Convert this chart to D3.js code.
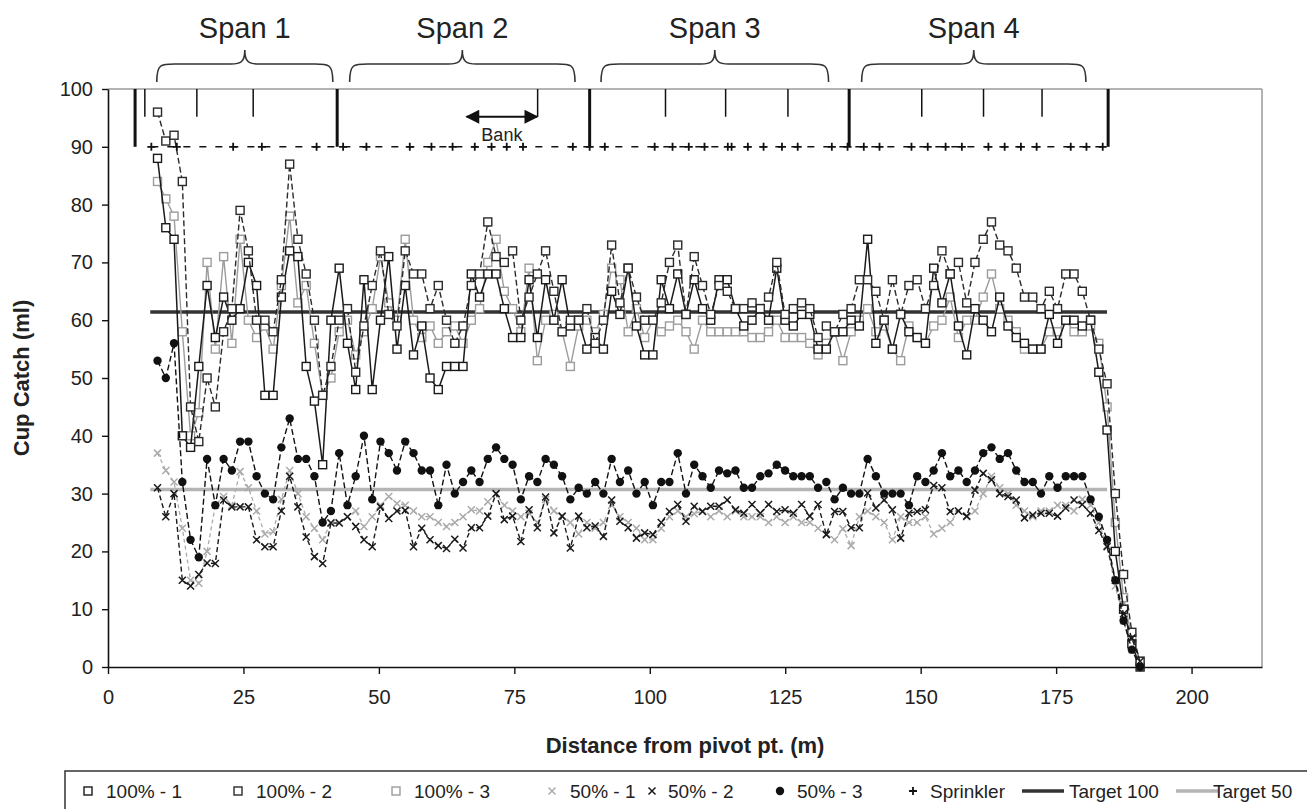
<!DOCTYPE html>
<html><head><meta charset="utf-8">
<script src="https://cdn.jsdelivr.net/npm/d3@7"></script>
<style>
body{margin:0;background:#fff}
svg{display:block}
text{font-family:"Liberation Sans",Arial,sans-serif;fill:#222}
</style>
</head><body>
<svg id="c" width="1307" height="809"></svg>
<script>
// ---------------- DATA ----------------
const distance = [9.14,10.67,12.19,13.72,15.24,16.76,18.29,19.81,21.34,22.86,
24.38,25.91,27.43,28.96,30.48,32.0,33.53,35.05,36.58,38.1,
39.62,41.15,42.67,44.2,45.72,47.24,48.77,50.29,51.82,53.34,
54.86,56.39,57.91,59.44,60.96,62.48,64.01,65.53,67.06,68.58,
70.1,71.63,73.15,74.68,76.2,77.72,79.25,80.77,82.3,83.82,
85.34,86.87,88.39,89.92,91.44,92.96,94.49,96.01,97.54,99.06,
100.58,102.11,103.63,105.16,106.68,108.2,109.73,111.25,112.78,114.3,
115.82,117.35,118.87,120.4,121.92,123.44,124.97,126.49,128.02,129.54,
131.06,132.59,134.11,135.64,137.16,138.68,140.21,141.73,143.26,144.78,
146.3,147.83,149.35,150.88,152.4,153.92,155.45,156.97,158.5,160.02,
161.54,163.07,164.59,166.12,167.64,169.16,170.69,172.21,173.74,175.26,
176.78,178.31,179.83,181.36,182.88,184.4,185.93,187.45,188.98,190.5];

const s100_1 = [88,76,74,40,38,52,66,57,64,60,
62,70,66,47,47,64,72,71,52,46,
35,60,69,56,48,67,48,60,71,55,
66,54,59,50,48,52,52,52,68,64,
68,68,62,57,57,67,57,67,60,67,
59,60,55,57,55,65,61,69,59,54,
54,67,62,68,61,67,62,60,67,67,
62,59,60,62,60,69,60,59,61,61,
55,55,58,58,60,59,74,56,60,55,
61,58,57,56,69,63,68,59,54,62,
60,58,64,59,57,56,55,55,61,56,
60,60,59,60,51,41,20,10,4,0];

const s100_2 = [96,91,92,84,45,39,50,45,58,62,
79,72,60,60,58,67,87,74,68,60,
47,52,60,62,51,59,66,72,61,59,
72,68,68,62,66,60,56,59,66,68,
77,71,70,72,60,64,68,72,65,58,
60,60,62,56,60,73,63,69,64,60,
60,63,70,73,61,71,66,61,66,65,
62,62,63,62,64,70,61,62,63,62,
57,59,58,61,62,67,67,65,60,67,
61,66,67,62,66,72,68,70,63,70,
74,77,73,72,69,64,64,62,65,62,
68,68,65,60,55,49,30,16,6,1];

const s100_3 = [84,81,78,58,40,44,70,55,71,56,
74,60,57,59,55,66,78,63,66,56,
47,50,58,60,54,58,62,71,63,60,
74,60,57,59,56,58,59,56,60,62,
70,74,65,62,58,69,53,60,61,58,
52,59,60,58,61,69,67,58,62,57,
60,58,59,60,58,55,60,58,58,58,
58,58,57,57,58,60,57,57,57,56,
54,56,58,53,58,60,62,58,59,55,
53,59,57,56,59,60,64,57,60,60,
64,68,62,60,58,55,55,55,58,58,
60,58,58,59,56,45,25,12,5,1];

const s50_1 = [37,34,32,24,15,14.5,20,28,29.5,28,
33.8,31,27,23,23.4,29,34,30,26,24,
22,25,25,26,27,24.3,26,28,29.5,28.3,
28,27,26,26,25,24.3,25,26,27.2,27,
28.6,30,28,27,26,26.6,25,29,27,26,
25,23,25,24,25,28,26,25,24,22,
22,24,26,27,26,26.5,27,26,27,26,
27,26,26,26,25,26,25,26,25,25,
24,23,22,23.9,21,26,27,26,25,22,
26,25,25,26,23,24,25,27,26,27,
30,33,31,30,28,27,26,27,27,28,
28,27,29,28,25,21,14,8,3,0];

const s50_2 = [31,26,30,15,14,16,18,17.9,28.9,27.7,
27.7,27.7,22,20.8,20.8,27,33,27.7,22.5,19.1,
17.9,24.9,24.9,26,24.3,22,20.8,27.7,25.7,27,
27.1,20.8,24,22,21,20.5,22.1,20.6,24.1,24.1,
26.1,30,25.5,26.1,21.7,27.2,24.1,29.4,23.2,26.1,
20.6,26.1,24.1,24.4,22.6,28.9,25.2,24.1,22.3,23.2,
22.9,25,26.9,28.1,25.2,27.8,26.9,27.8,27.8,28.9,
27.2,26.6,28.1,26.6,28.1,26.9,27.2,26.6,28.1,26.1,
28.1,22.9,26.9,26.9,24.1,24.1,30.1,27.5,28.9,27.2,
22.3,26.6,26.9,27.2,31.4,31,26.9,27,26.1,30.6,
33.5,32.4,30,29.5,28.9,25.8,26.3,26.6,26.6,26.1,
27.5,28.9,28.1,26.6,23.6,20.8,15,9.2,5,1];

const s50_3 = [53,50,56,32,22,19,36,28,36,34,
39,39,33,30,29,38,43,36,36,33,
25,27,37,28,33,40,29,39,37,34,
39,37,34,34,28,35,30,32,34,32,
36,38,36,35,29,33,32,36,35,33,
29,31,30,32,30,36,32,34,30,32,
28,32,32,37,30,35,33,31,34,33.5,
34,31,31,33,33.5,35,34,33,33,33,
31,32,29,31,30,30,36,33,30,30,
30,28,33,32,34,37,33,34,32,34,
37,38,36,37,34,32,32,30,33,31,
33,33,33,29,26,22,15,8,3,0];

const sprinklerPos = [8.0,12.7,23.1,28.4,38.5,43.4,47.7,55.7,59.7,63.6,67.7,70.8,73.6,76.6,85.8,88.9,
91.7,100.9,104.2,107.2,110.1,114.4,115.1,118.1,121.0,124.4,127.3,133.6,136.5,139.5,142.4,
148.3,151.3,154.6,157.6,162.5,165.5,168.5,171.4,177.7,180.6,183.6];
const sprinklerValue = 90;
const towers = [5.0, 42.3, 88.9, 136.8, 184.6];
const drops = [6.8, 16.4, 26.8, 79.3, 102.9, 114.0, 125.5, 150.2, 161.6, 172.4];
const spanLabels = ["Span 1","Span 2","Span 3","Span 4"];
const spanStart = [9.0, 44.6, 91.0, 139.1];
const spanEnd = [41.5, 86.2, 133.0, 180.5];
const bankFrom = 66.2, bankTo = 79.2, bankLabel = "Bank";
const target100 = 61.4, target50 = 30.7;
const targetFrom = 7.8, targetTo = 184.4;
const xTicks = [0,25,50,75,100,125,150,175,200];
const yTicks = [0,10,20,30,40,50,60,70,80,90,100];
const seriesNames = ["100% - 1","100% - 2","100% - 3","50% - 1","50% - 2","50% - 3","Sprinkler","Target 100","Target 50"];

// ---------------- CHART ----------------
const svg = d3.select("#c");
const x = d3.scaleLinear().domain([0, 213]).range([108, 1262]);
const y = d3.scaleLinear().domain([0, 100]).range([667, 89]);

svg.append("line").attr("x1", x(0)).attr("x2", x(213)).attr("y1", y(100)).attr("y2", y(100))
  .attr("stroke", "#9a9a9a").attr("stroke-width", 1.5);
svg.append("line").attr("x1", x(213)).attr("x2", x(213)).attr("y1", y(100)).attr("y2", y(0))
  .attr("stroke", "#9a9a9a").attr("stroke-width", 1.5);

const gy = svg.append("g").attr("transform", `translate(${x(0)},0)`)
  .call(d3.axisLeft(y).tickValues(yTicks).tickSize(6).tickSizeOuter(0).tickPadding(9));
const gx = svg.append("g").attr("transform", `translate(0,${y(0)})`)
  .call(d3.axisBottom(x).tickValues(xTicks).tickSize(7).tickSizeOuter(0).tickPadding(16));
[gx, gy].forEach(g => {
  g.select(".domain").attr("stroke", "#111").attr("stroke-width", 1.6);
  g.selectAll(".tick line").attr("stroke", "#111").attr("stroke-width", 1.4);
  g.selectAll(".tick text").attr("font-size", 20).attr("fill", "#444")
    .style("font-family", '"Liberation Sans",Arial,sans-serif');
});

svg.append("text").attr("x", (x(0) + x(213)) / 2).attr("y", 753).attr("text-anchor", "middle")
  .attr("font-size", 22).attr("font-weight", "bold").text("Distance from pivot pt. (m)");
svg.append("text").attr("transform", `translate(29,${(y(0) + y(100)) / 2}) rotate(-90)`)
  .attr("text-anchor", "middle").attr("font-size", 22).attr("font-weight", "bold").text("Cup Catch (ml)");

const ann = svg.append("g");
ann.selectAll(".tower").data(towers).join("line")
  .attr("x1", d => x(d)).attr("x2", d => x(d)).attr("y1", y(100)).attr("y2", y(sprinklerValue))
  .attr("stroke", "#111").attr("stroke-width", 3);
ann.selectAll(".drop").data(drops).join("line")
  .attr("x1", d => x(d)).attr("x2", d => x(d)).attr("y1", y(100)).attr("y2", y(95.2))
  .attr("stroke", "#111").attr("stroke-width", 1.5);

function bracePath(a, b) {
  const x1 = x(a), x2 = x(b), m = (x1 + x2) / 2, yb = 82, yf = 64, yt = 50;
  return `M${x1},${yb} C${x1},${yf} ${x1+4},${yf} ${x1+18},${yf} L${m-14},${yf} C${m-4},${yf} ${m},${yf-2} ${m},${yt} ` +
         `C${m},${yf-2} ${m+4},${yf} ${m+14},${yf} L${x2-18},${yf} C${x2-4},${yf} ${x2},${yf} ${x2},${yb}`;
}
spanLabels.forEach((lab, i) => {
  ann.append("path").attr("d", bracePath(spanStart[i], spanEnd[i]))
    .attr("fill", "none").attr("stroke", "#333").attr("stroke-width", 1.6);
  ann.append("text").attr("x", x((spanStart[i] + spanEnd[i]) / 2)).attr("y", 38)
    .attr("text-anchor", "middle").attr("font-size", 29).text(lab);
});

svg.append("defs").append("marker").attr("id", "ah").attr("viewBox", "0 0 10 10")
  .attr("refX", 9).attr("refY", 5).attr("markerWidth", 9).attr("markerHeight", 7)
  .attr("orient", "auto-start-reverse").append("path").attr("d", "M0,0 L10,5 L0,10 z").attr("fill", "#111");
ann.append("line").attr("x1", x(bankFrom)).attr("x2", x(bankTo)).attr("y1", y(95.2)).attr("y2", y(95.2))
  .attr("stroke", "#111").attr("stroke-width", 2).attr("marker-start", "url(#ah)").attr("marker-end", "url(#ah)");
ann.append("text").attr("x", x((bankFrom + bankTo) / 2)).attr("y", y(91.0)).attr("text-anchor", "middle")
  .attr("font-size", 18).text(bankLabel);

function drawMarker(g, type, cx, cy, color) {
  if (type === "square") {
    g.append("rect").attr("x", cx - 4).attr("y", cy - 4).attr("width", 8).attr("height", 8)
      .attr("fill", "#fff").attr("stroke", color).attr("stroke-width", 1.4);
  } else if (type === "x") {
    g.append("path").attr("d", `M${cx-3.5},${cy-3.5}L${cx+3.5},${cy+3.5}M${cx-3.5},${cy+3.5}L${cx+3.5},${cy-3.5}`)
      .attr("stroke", color).attr("stroke-width", 1.5);
  } else if (type === "dot") {
    g.append("circle").attr("cx", cx).attr("cy", cy).attr("r", 4.2).attr("fill", color);
  } else if (type === "plus") {
    g.append("path").attr("d", `M${cx-4},${cy}L${cx+4},${cy}M${cx},${cy-4}L${cx},${cy+4}`)
      .attr("stroke", color).attr("stroke-width", 1.8);
  }
}

const series = [
  {values: s100_3, color: "#9c9c9c", dash: null, w: 1.4, marker: "square"},
  {values: s50_1, color: "#ababab", dash: "4,3", w: 1.3, marker: "x"},
  {values: s100_1, color: "#1a1a1a", dash: null, w: 1.5, marker: "square"},
  {values: s100_2, color: "#2a2a2a", dash: "6,3", w: 1.4, marker: "square"},
  {values: s50_2, color: "#1a1a1a", dash: "5,3", w: 1.4, marker: "x"},
  {values: s50_3, color: "#111", dash: "6,3", w: 1.4, marker: "dot"}
];

svg.append("line").attr("x1", x(targetFrom)).attr("x2", x(targetTo)).attr("y1", y(target50)).attr("y2", y(target50))
  .attr("stroke", "#b5b5b5").attr("stroke-width", 3.5);
svg.append("line").attr("x1", x(targetFrom)).attr("x2", x(targetTo)).attr("y1", y(target100)).attr("y2", y(target100))
  .attr("stroke", "#333").attr("stroke-width", 3.5);

const line = d3.line().x(d => x(d[0])).y(d => y(d[1]));
series.forEach(s => {
  const pts = distance.map((d, i) => [d, s.values[i]]);
  const g = svg.append("g");
  g.append("path").attr("d", line(pts)).attr("fill", "none").attr("stroke", s.color)
    .attr("stroke-width", s.w).attr("stroke-dasharray", s.dash);
  pts.forEach(p => drawMarker(g, s.marker, x(p[0]), y(p[1]), s.color));
});

const sg = svg.append("g");
sg.append("line").attr("x1", x(sprinklerPos[0])).attr("x2", x(sprinklerPos[sprinklerPos.length - 1]))
  .attr("y1", y(sprinklerValue)).attr("y2", y(sprinklerValue))
  .attr("stroke", "#111").attr("stroke-width", 1.4).attr("stroke-dasharray", "7,9");
sprinklerPos.forEach(p => drawMarker(sg, "plus", x(p), y(sprinklerValue), "#111"));

// legend
const lg = svg.append("g");
lg.append("rect").attr("x", 65).attr("y", 771).attr("width", 1300).attr("height", 60)
  .attr("fill", "#fff").attr("stroke", "#333").attr("stroke-width", 1.5);
const legendMarkerX = [88, 238, 396, 552, 652, 780, 913, 1022, 1176];
const legendTextX = [106, 256, 414, 570, 668, 797, 930, 1069, 1213];
const legendMarkers = ["square", "square", "square", "x", "x", "dot", "plus", "line", "line"];
const legendColors = ["#1a1a1a", "#2a2a2a", "#9c9c9c", "#ababab", "#1a1a1a", "#111", "#111", "#333", "#b5b5b5"];
const ly = 791;
seriesNames.forEach((nm, i) => {
  const mx = legendMarkerX[i];
  if (legendMarkers[i] === "line") {
    lg.append("line").attr("x1", mx).attr("x2", mx + 42).attr("y1", ly).attr("y2", ly)
      .attr("stroke", legendColors[i]).attr("stroke-width", 3.5);
  } else {
    drawMarker(lg, legendMarkers[i], mx, ly, legendColors[i]);
  }
  lg.append("text").attr("x", legendTextX[i]).attr("y", ly + 7).attr("font-size", 19).attr("fill", "#333").text(nm);
});
</script>
</body></html>
